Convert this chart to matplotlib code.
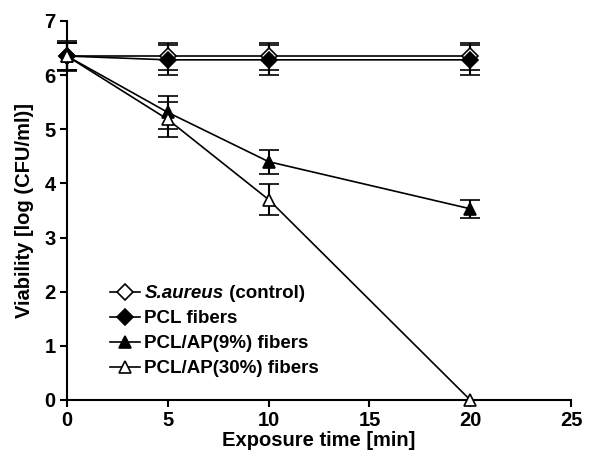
import matplotlib
matplotlib.use("Agg")
import matplotlib.pyplot as plt
from matplotlib.lines import Line2D

plt.rcParams['font.family'] = ['Liberation Sans', 'DejaVu Sans']
plt.rcParams['font.weight'] = 'bold'

time = [0, 5, 10, 20]
control = [6.35, 6.35, 6.35, 6.35]
control_err = [0.25, 0.25, 0.25, 0.25]
pcl = [6.35, 6.28, 6.28, 6.28]
pcl_err = [0.28, 0.28, 0.28, 0.28]
ap9 = [6.35, 5.31, 4.40, 3.53]
ap9_err = [0.25, 0.30, 0.22, 0.17]
ap30 = [6.35, 5.18, 3.70, 0.0]
ap30_err = [0.25, 0.32, 0.29, 0.0]

labels = ['S.aureus', 'PCL fibers', 'PCL/AP(9%) fibers', 'PCL/AP(30%) fibers']
label_suffix = ' (control)'

fig = plt.figure(figsize=(5.98, 4.53), dpi=100)
ax = fig.add_axes([0.112, 0.117, 0.843, 0.837])

series = [
    (control, control_err, 'D', 'white', 8.5),
    (pcl, pcl_err, 'D', 'black', 8.5),
    (ap9, ap9_err, '^', 'black', 9),
    (ap30, ap30_err, '^', 'white', 9),
]
for (y, e, m, fc, ms) in series:
    ax.errorbar(time, y, yerr=e, color='black', lw=1.2, marker=m, ms=ms,
                mfc=fc, mec='black', mew=1.2, capsize=7, capthick=2.0,
                elinewidth=1.5, clip_on=False, zorder=3)

ax.set_xlim(0, 25)
ax.set_ylim(0, 7)
ax.set_xticks([0, 5, 10, 15, 20, 25])
ax.set_yticks(range(0, 8))
for s in ['top', 'right']:
    ax.spines[s].set_visible(False)
for s in ['left', 'bottom']:
    ax.spines[s].set_linewidth(1.5)
ax.tick_params(direction='out', length=5, width=1.5, labelsize=14.5, pad=3)
for t in ax.get_xticklabels() + ax.get_yticklabels():
    t.set_fontweight('bold')

ax.set_xlabel('Exposure time [min]', fontsize=14.5, fontweight='bold', labelpad=1)
ax.set_ylabel('Viability [log (CFU/ml)]', fontsize=14.5, fontweight='bold', labelpad=8)

leg_handles = [Line2D([], [], color='black', lw=1.2, marker=m, ms=ms, mfc=fc,
                      mec='black', mew=1.2) for (_, _, m, fc, ms) in series]
leg = ax.legend(leg_handles, labels, loc='lower left', bbox_to_anchor=(0.07, 0.04),
                frameon=False, fontsize=13.5, handlelength=1.6, handletextpad=0.25,
                labelspacing=0.42, borderaxespad=0)
for i, t in enumerate(leg.get_texts()):
    t.set_fontweight('bold')
    if i == 0:
        t.set_fontstyle('italic')

fig.canvas.draw()
first = leg.get_texts()[0]
bb = first.get_window_extent(renderer=fig.canvas.get_renderer())
x1, y0 = fig.transFigure.inverted().transform((bb.x1, bb.y0))
fig.text(x1, y0, label_suffix, ha='left', va='bottom', fontsize=13.5, fontweight='bold')

fig.savefig('out.png', dpi=100)
